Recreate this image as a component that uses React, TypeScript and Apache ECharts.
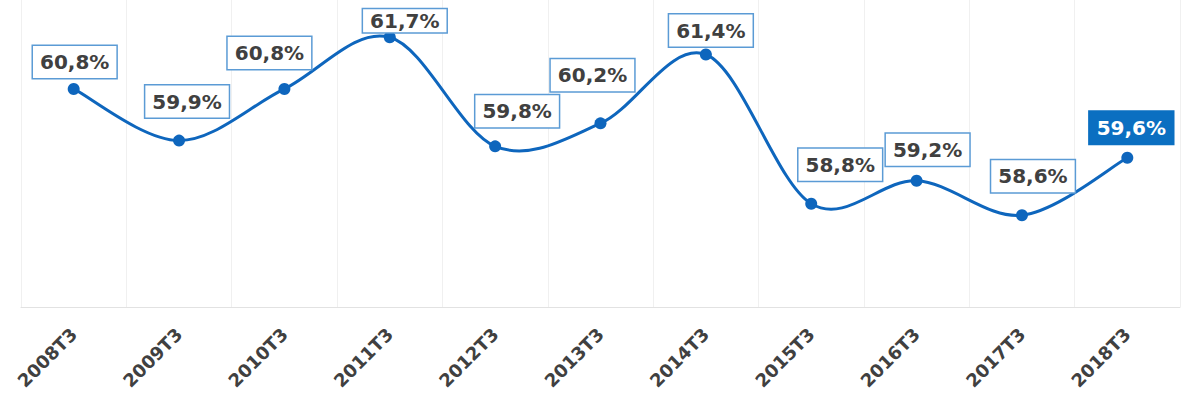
import React, { useEffect, useRef } from "react";
import * as echarts from "echarts";

const categories = ["2008T3", "2009T3", "2010T3", "2011T3", "2012T3", "2013T3", "2014T3", "2015T3", "2016T3", "2017T3", "2018T3"];
const values = [60.8, 59.9, 60.8, 61.7, 59.8, 60.2, 61.4, 58.8, 59.2, 58.6, 59.6];
// manual label placement offsets (px), as in the reference
const labelOffsets: [number, number][] = [
  [1, 0], [8, -12], [-15, -9], [15, 6], [22, -8], [-8, -21], [5, 3], [29, -12], [11, -4], [11, -12], [4, -3],
];

const FONT = "'DejaVu Sans', Verdana, sans-serif";
const LINE_COLOR = "#0e66bd";

function catmullRomPath(pts: number[][]): string {
  let d = `M${pts[0][0]},${pts[0][1]}`;
  for (let i = 0; i < pts.length - 1; i++) {
    const p0 = pts[i - 1] || pts[i];
    const p1 = pts[i];
    const p2 = pts[i + 1];
    const p3 = pts[i + 2] || pts[i + 1];
    const c1x = p1[0] + (p2[0] - p0[0]) / 6;
    const c1y = p1[1] + (p2[1] - p0[1]) / 6;
    const c2x = p2[0] - (p3[0] - p1[0]) / 6;
    const c2y = p2[1] - (p3[1] - p1[1]) / 6;
    d += ` C${c1x},${c1y} ${c2x},${c2y} ${p2[0]},${p2[1]}`;
  }
  return d;
}

export default function App() {
  const ref = useRef<HTMLDivElement>(null);
  useEffect(() => {
    document.body.style.margin = "0";
    if (!ref.current) return;
    const chart = echarts.init(ref.current, undefined, { renderer: "svg" });
    const last = values.length - 1;
    chart.setOption({
      animation: false,
      backgroundColor: "#ffffff",
      grid: { left: 21, right: 20, top: 0, bottom: 98 },
      xAxis: {
        type: "category",
        data: categories,
        boundaryGap: true,
        axisLine: { show: true, lineStyle: { color: "#e2e2e2", width: 1 } },
        axisTick: { show: false },
        splitLine: { show: true, lineStyle: { color: "#f0f0f0", width: 1 } },
        axisLabel: {
          rotate: 45,
          margin: 24,
          fontFamily: FONT,
          fontWeight: "bold",
          fontSize: 18,
          color: "#404040",
        },
      },
      yAxis: {
        type: "value",
        min: 57,
        max: 62.35,
        show: false,
        splitLine: { show: false },
      },
      series: [
        {
          type: "custom",
          z: 1,
          clip: false,
          data: values.map((v, i) => [i, v]),
          encode: { x: 0, y: 1 },
          renderItem: (params: any, api: any) => {
            if (params.dataIndex !== 0) return null;
            const pts = values.map((v, i) => api.coord([i, v]));
            return {
              type: "path",
              shape: { pathData: catmullRomPath(pts) },
              style: { stroke: LINE_COLOR, lineWidth: 3, fill: "none" },
            };
          },
        },
        {
          type: "line",
          z: 3,
          data: values.map((v, i) => {
            const label: any = { offset: labelOffsets[i] };
            if (i === last) {
              label.backgroundColor = "#0b6fc1";
              label.borderColor = "#0b6fc1";
              label.color = "#ffffff";
            }
            if (i === 3) {
              label.padding = [2, 7, 1, 7];
            }
            return { value: v, label };
          }),
          symbol: "circle",
          symbolSize: 12,
          itemStyle: { color: LINE_COLOR },
          lineStyle: { width: 0, opacity: 0 },
          label: {
            show: true,
            position: "top",
            distance: 5,
            formatter: (p: any) => String(p.value).replace(".", ",") + "%",
            fontFamily: FONT,
            fontWeight: "bold",
            fontSize: 20,
            color: "#404040",
            backgroundColor: "#ffffff",
            borderColor: "#5b9bd5",
            borderWidth: 1.5,
            padding: [6, 7, 6, 7],
          },
        },
      ],
    });
    return () => chart.dispose();
  }, []);
  return <div ref={ref} style={{ width: 1200, height: 405 }} />;
}
